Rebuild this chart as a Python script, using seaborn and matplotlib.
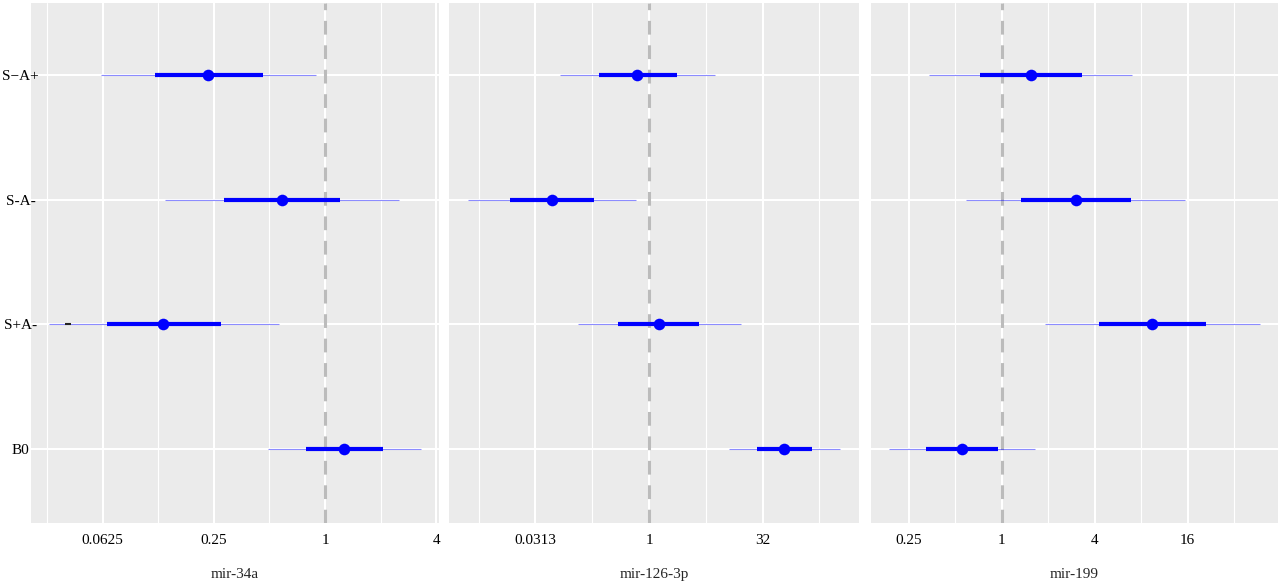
import numpy as np
import pandas as pd
import matplotlib
matplotlib.use('Agg')
import matplotlib.pyplot as plt
from matplotlib.ticker import FixedLocator, NullFormatter
import seaborn as sns

# groups, top to bottom
groups = ['S\u2212A+', 'S-A-', 'S+A-', 'B0']
genes = ['mir-34a', 'mir-126-3p', 'mir-199']

# fold change estimates (point, inner interval, outer interval)
est_34a = [0.233, 0.583, 0.133, 1.27]
inner_lo_34a = [0.120, 0.282, 0.0657, 0.79]
inner_hi_34a = [0.463, 1.21, 0.273, 2.05]
outer_lo_34a = [0.061, 0.136, 0.0321, 0.49]
outer_hi_34a = [0.894, 2.52, 0.563, 3.3]

est_126 = [0.70, 0.052, 1.35, 62.0]
inner_lo_126 = [0.217, 0.0144, 0.384, 26.8]
inner_hi_126 = [2.33, 0.187, 4.65, 145.0]
outer_lo_126 = [0.066, 0.0040, 0.113, 11.6]
outer_hi_126 = [7.5, 0.665, 16.4, 340.0]

est_199 = [1.54, 3.01, 9.45, 0.556]
inner_lo_199 = [0.72, 1.33, 4.27, 0.323]
inner_hi_199 = [3.29, 6.82, 21.1, 0.952]
outer_lo_199 = [0.337, 0.587, 1.92, 0.187]
outer_hi_199 = [7.0, 15.3, 47.2, 1.64]

# the small dark dash on the S+A- row of mir-34a
dash_34a_group = 'S+A-'
dash_34a_value = 0.0404

rows = []
for gene, est, ilo, ihi, olo, ohi in [
        ('mir-34a', est_34a, inner_lo_34a, inner_hi_34a, outer_lo_34a, outer_hi_34a),
        ('mir-126-3p', est_126, inner_lo_126, inner_hi_126, outer_lo_126, outer_hi_126),
        ('mir-199', est_199, inner_lo_199, inner_hi_199, outer_lo_199, outer_hi_199)]:
    for i, g in enumerate(groups):
        rows.append({'gene': gene, 'group': g, 'pos': i, 'est': est[i],
                     'ilo': ilo[i], 'ihi': ihi[i], 'olo': olo[i], 'ohi': ohi[i]})
df = pd.DataFrame(rows)

# axis setup per panel: limits in log2, major ticks, labels, minor ticks (log2)
axis_cfg = {
    'mir-34a': dict(lim=(-5.29, 2.05), major=[-4, -2, 0, 2],
                    labels=['0.0625', '0.25', '1', '4'], minor=[-5, -3, -1, 1]),
    'mir-126-3p': dict(lim=(-8.81, 9.25), major=[-5, 0, 5],
                       labels=['0.0313', '1', '32'], minor=[-7.5, -2.5, 2.5, 7.5]),
    'mir-199': dict(lim=(-2.82, 5.94), major=[-2, 0, 2, 4],
                    labels=['0.25', '1', '4', '16'], minor=[-1, 1, 3, 5]),
}

sns.set_theme(style='darkgrid')
plt.rcParams['font.family'] = ['Liberation Serif', 'DejaVu Serif']
plt.rcParams['axes.facecolor'] = '#EBEBEB'

fig = plt.figure(figsize=(12.8, 5.86), dpi=100)
lefts = [31, 449, 870.5]
rights = [439, 859, 1278]
bottom = 1 - 523 / 586
top = 1 - 3 / 586

for k, gene in enumerate(genes):
    ax = fig.add_axes([lefts[k] / 1280, bottom, (rights[k] - lefts[k]) / 1280, top - bottom])
    sub = df[df['gene'] == gene]
    cfg = axis_cfg[gene]

    ax.set_xscale('log', base=2)
    ax.set_xlim(2.0 ** cfg['lim'][0], 2.0 ** cfg['lim'][1])
    ax.set_ylim(3.593, -0.577)

    ax.xaxis.set_major_locator(FixedLocator([2.0 ** v for v in cfg['major']]))
    ax.set_xticklabels(cfg['labels'])
    ax.xaxis.set_minor_locator(FixedLocator([2.0 ** v for v in cfg['minor']]))
    ax.xaxis.set_minor_formatter(NullFormatter())
    ax.set_yticks(range(len(groups)))
    if k == 0:
        ax.set_yticklabels(groups, ha='center')
    else:
        ax.set_yticklabels([])

    ax.grid(which='major', color='white', linewidth=1.5)
    ax.grid(which='minor', axis='x', color='white', linewidth=0.8)
    ax.set_axisbelow(True)
    for s in ax.spines.values():
        s.set_visible(False)

    ax.tick_params(axis='both', which='major', length=3, width=1.2, color='#333333',
                   labelsize=11, labelcolor='black', pad=5)
    ax.tick_params(axis='x', which='minor', length=0)
    if k == 0:
        ax.tick_params(axis='y', pad=4.5)

    # reference line
    ax.axvline(1, color='#BBBBBB', linewidth=2.2, linestyle=(0, (4.5, 3.5)), zorder=1.5)

    ax.hlines(sub['pos'], sub['olo'], sub['ohi'], color='#0000FF', alpha=0.45,
              linewidth=0.8, zorder=2)
    ax.hlines(sub['pos'], sub['ilo'], sub['ihi'], color='#0000FF', linewidth=3.0, zorder=3)
    sns.scatterplot(data=sub, x='est', y='pos', ax=ax, color='#0000FF', s=70,
                    edgecolor='#0000FF', linewidth=0, zorder=4, legend=False)

    if gene == 'mir-34a':
        ax.plot([dash_34a_value], [groups.index(dash_34a_group)], marker='_',
                color='#222222', markersize=4, markeredgewidth=1.5, zorder=3)

    ax.set_ylabel('')
    ax.set_xlabel(gene, fontsize=11, labelpad=15)

fig.savefig('out.png', dpi=100, facecolor='white')
